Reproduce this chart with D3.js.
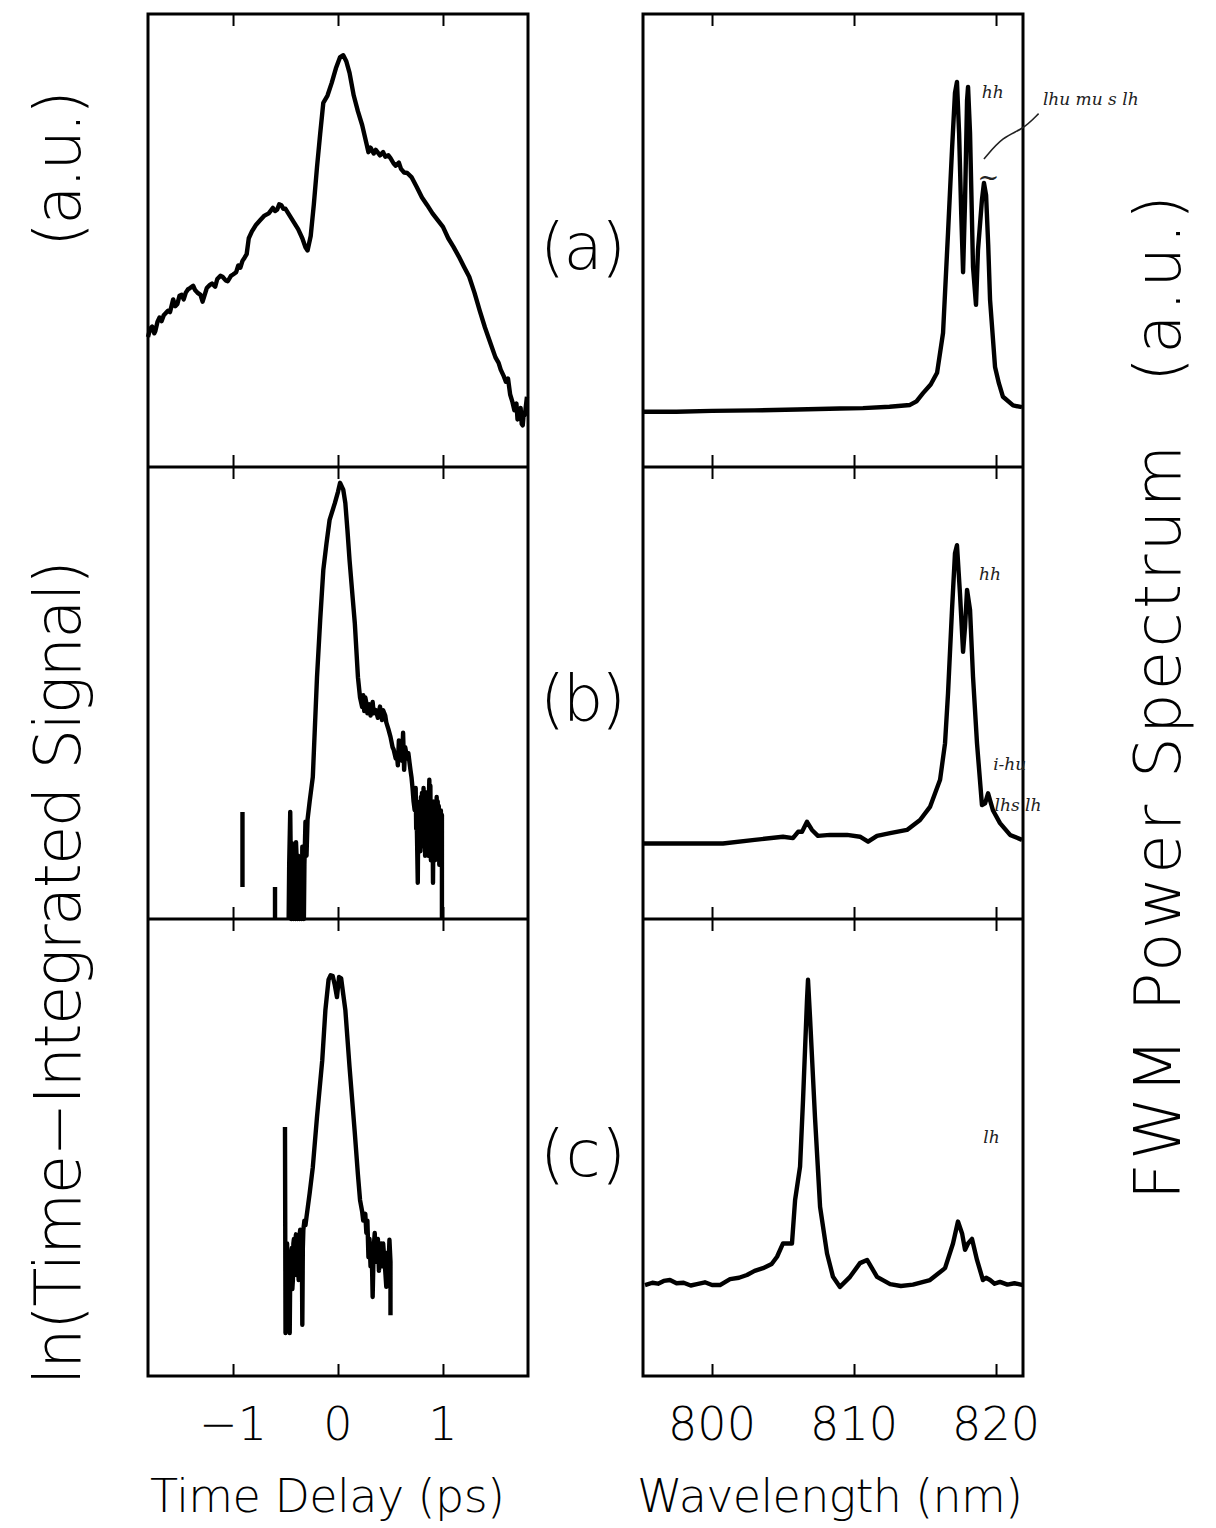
<!DOCTYPE html>
<html>
<head>
<meta charset="utf-8">
<script src="https://cdn.jsdelivr.net/npm/d3@7"></script>
<style>
  body { margin: 0; background: #fff; }
  text { font-family: "DejaVu Sans", sans-serif; font-weight: 200; fill: #000; }
  .note { font-family: "DejaVu Serif", serif; font-style: italic; font-weight: 400; fill: #222; }
</style>
</head>
<body>
<div id="chart"></div>
<script>
// ---- data ----
// left column: time delay (ps) vs ln(signal) in arbitrary units (0..10 per panel)
let timeA = [-1.81,-1.79,-1.77,-1.75,-1.74,-1.72,-1.70,-1.68,-1.66,-1.64,-1.62,-1.60,-1.57,-1.55,-1.53,-1.51,-1.49,-1.47,-1.45,-1.43,-1.41,-1.38,-1.36,-1.34,-1.31,-1.29,-1.27,-1.25,-1.22,-1.20,-1.17,-1.15,-1.12,-1.10,-1.07,-1.05,-1.02,-1.00,-0.97,-0.95,-0.93,-0.91,-0.89,-0.87,-0.85,-0.82,-0.78,-0.74,-0.70,-0.66,-0.62,-0.60,-0.58,-0.56,-0.54,-0.52,-0.50,-0.46,-0.42,-0.38,-0.34,-0.31,-0.29,-0.26,-0.23,-0.20,-0.17,-0.14,-0.10,-0.06,-0.02,0.02,0.05,0.08,0.11,0.15,0.19,0.23,0.27,0.29,0.31,0.34,0.36,0.40,0.43,0.45,0.48,0.50,0.53,0.55,0.58,0.60,0.63,0.66,0.70,0.75,0.80,0.85,0.90,0.95,1.00,1.05,1.10,1.15,1.20,1.25,1.30,1.35,1.40,1.45,1.50,1.53,1.55,1.58,1.60,1.62,1.64,1.66,1.68,1.70,1.71,1.72,1.74,1.75,1.76,1.77,1.78,1.80];
let signalA = [2.87,3.05,3.10,2.95,3.00,3.20,3.30,3.22,3.35,3.40,3.45,3.42,3.70,3.55,3.60,3.78,3.80,3.70,3.85,3.92,3.95,4.00,3.90,3.85,3.80,3.65,3.80,3.95,4.02,4.05,3.98,4.15,4.22,4.20,4.12,4.10,4.22,4.25,4.30,4.45,4.40,4.55,4.62,4.70,5.05,5.20,5.35,5.45,5.55,5.60,5.72,5.65,5.68,5.80,5.78,5.70,5.70,5.55,5.40,5.25,5.05,4.85,4.78,5.10,5.80,6.62,7.35,8.04,8.20,8.48,8.80,9.05,9.09,8.95,8.70,8.20,7.85,7.55,7.15,6.95,7.05,6.92,7.00,6.88,6.95,6.85,6.88,6.82,6.70,6.65,6.72,6.58,6.50,6.49,6.40,6.18,5.95,5.78,5.60,5.45,5.30,5.05,4.86,4.65,4.42,4.20,3.85,3.45,3.08,2.75,2.42,2.30,2.15,2.00,1.88,1.95,1.60,1.45,1.25,1.40,1.05,1.20,1.30,0.95,0.92,1.20,1.15,1.55];

// null = no signal (log undefined), 0 = clipped at panel floor
let timeB = [-0.91,-0.91,null,-0.60,-0.60,null,-0.47,-0.465,-0.455,-0.45,-0.445,-0.44,-0.43,-0.425,-0.42,-0.41,-0.405,-0.40,-0.39,-0.385,-0.38,-0.37,-0.365,-0.36,-0.35,-0.345,-0.34,-0.33,-0.325,-0.32,-0.31,-0.30,-0.29,-0.27,-0.24,-0.20,-0.17,-0.14,-0.11,-0.08,-0.03,0.00,0.02,0.05,0.07,0.09,0.11,0.14,0.16,0.19,0.21,0.23,0.24,0.25,0.26,0.27,0.28,0.30,0.31,0.33,0.34,0.36,0.38,0.40,0.42,0.43,0.45,0.46,0.48,0.50,0.52,0.53,0.55,0.56,0.57,0.58,0.59,0.60,0.61,0.62,0.63,0.64,0.66,0.67,0.69,0.70,0.71,0.72,0.73,0.74,0.745,0.75,0.76,0.765,0.77,0.775,0.78,0.785,0.79,0.795,0.80,0.805,0.81,0.815,0.82,0.825,0.83,0.835,0.84,0.845,0.85,0.855,0.86,0.865,0.87,0.875,0.88,0.885,0.89,0.895,0.90,0.905,0.91,0.915,0.92,0.925,0.93,0.935,0.94,0.945,0.95,0.955,0.96,0.965,0.97,0.975,0.98,0.985,0.99,0.99];
let signalB = [0.71,2.37,null,0,0.71,null,0,1.20,2.37,1.30,0,1.68,0.93,0,1.55,1.00,0,1.70,1.10,0,1.40,0.90,0,1.30,0.85,0,1.60,1.10,0,1.20,2.15,1.40,2.20,2.60,3.14,5.35,6.60,7.72,8.30,8.83,9.20,9.45,9.65,9.50,9.20,8.60,7.94,7.10,6.55,5.35,4.90,4.69,4.95,4.60,4.90,4.78,4.55,4.75,4.50,4.80,4.55,4.62,4.45,4.70,4.40,4.62,4.50,4.35,4.20,4.03,3.80,3.75,3.55,3.67,3.40,3.95,3.60,3.85,3.50,4.12,3.30,3.80,3.55,3.67,3.30,3.14,2.90,2.60,2.41,2.90,2.00,2.20,0.80,2.50,1.70,2.30,2.60,1.50,2.70,1.60,2.79,1.90,2.20,2.90,1.70,2.60,1.40,2.41,2.00,2.80,1.50,2.80,1.40,2.60,3.08,1.90,2.95,1.30,2.50,1.70,2.60,0.80,2.40,1.50,2.60,1.30,2.40,1.70,2.70,1.40,2.60,1.60,2.50,1.20,2.20,1.60,2.40,1.31,2.30,0];

let timeC = [-0.505,-0.50,-0.495,-0.49,-0.485,-0.48,-0.475,-0.47,-0.465,-0.46,-0.455,-0.45,-0.445,-0.44,-0.435,-0.43,-0.425,-0.42,-0.415,-0.41,-0.405,-0.40,-0.395,-0.39,-0.385,-0.38,-0.375,-0.37,-0.365,-0.36,-0.355,-0.35,-0.345,-0.34,-0.335,-0.33,-0.32,-0.31,-0.30,-0.27,-0.24,-0.20,-0.15,-0.12,-0.09,-0.07,-0.05,-0.03,-0.01,0.01,0.03,0.05,0.07,0.11,0.16,0.19,0.21,0.23,0.24,0.26,0.27,0.28,0.29,0.30,0.31,0.32,0.33,0.34,0.35,0.36,0.37,0.38,0.39,0.40,0.41,0.42,0.43,0.44,0.45,0.46,0.47,0.48,0.49,0.50,0.50];
let signalC = [5.45,0.94,2.60,1.70,2.90,1.90,2.70,1.60,2.50,0.94,2.30,2.00,2.70,2.80,1.90,2.10,2.90,3.00,2.30,2.40,3.00,3.10,2.40,2.20,2.80,3.00,2.10,2.30,3.10,3.20,2.50,2.60,3.00,1.12,2.80,3.20,3.40,3.30,3.48,4.00,4.57,5.67,6.91,8.01,8.67,8.77,8.75,8.55,8.29,8.73,8.70,8.35,8.01,6.76,5.32,4.40,3.85,3.60,3.40,3.55,3.13,3.40,2.60,3.00,2.40,2.90,1.73,2.80,3.13,2.50,2.90,3.00,2.30,2.76,2.90,2.40,2.90,2.60,2.30,1.95,2.70,2.30,2.98,2.50,1.33];

// right column: wavelength (nm) vs FWM power (a.u., 0..10 per panel)
let lambdaA = [795.14,797.5,800,803,806,809,810.63,812.5,813.94,814.4,814.86,815.4,815.85,816.27,816.62,816.90,817.11,817.25,817.40,817.55,817.68,817.82,817.96,818.03,818.17,818.38,818.59,818.73,819.01,819.15,819.30,819.45,819.58,819.93,820.2,820.49,821.20,821.83];
let powerA = [1.22,1.22,1.24,1.25,1.27,1.29,1.30,1.33,1.37,1.45,1.63,1.82,2.08,2.96,5.17,7.00,8.26,8.50,7.37,5.60,4.30,5.89,8.09,8.39,7.37,4.42,3.58,4.79,5.90,6.27,6.00,4.90,3.69,2.21,1.85,1.55,1.36,1.32];

let lambdaB = [795.14,800.77,803,805.0,805.70,806.06,806.34,806.69,807.04,807.46,808.31,809.51,810.42,810.99,811.62,812.54,813.73,814.65,815.35,816.06,816.41,816.62,816.90,817.11,817.25,817.46,817.68,817.82,817.96,818.17,818.38,818.66,819.01,819.23,819.44,819.79,820.28,820.99,821.83];
let powerB = [1.67,1.67,1.75,1.82,1.79,1.93,1.93,2.15,1.97,1.84,1.86,1.86,1.82,1.71,1.84,1.90,1.97,2.19,2.48,3.08,3.89,4.99,6.84,8.09,8.27,7.21,5.91,6.47,7.28,6.84,5.36,3.89,2.52,2.56,2.78,2.40,2.12,1.86,1.75];

let lambdaC = [795.28,795.8,796.2,796.6,797.04,797.5,798.0,798.5,798.94,799.5,800.0,800.56,801.27,801.9,802.46,803.0,803.59,804.2,804.58,805.0,805.63,805.85,806.2,806.41,806.69,806.76,806.90,807.25,807.61,808.1,808.52,809.01,809.72,810.42,810.92,811.62,812.54,813.3,814.15,815.35,816.41,816.97,817.32,817.61,817.82,818.03,818.31,818.66,819.08,819.3,819.58,819.9,820.28,820.8,821.3,821.90];
let powerC = [1.99,2.04,2.02,2.08,2.10,2.03,2.04,1.98,2.01,2.05,1.99,1.99,2.12,2.15,2.21,2.30,2.36,2.45,2.61,2.90,2.90,3.85,4.58,6.04,8.23,8.67,7.86,5.67,3.70,2.68,2.17,1.95,2.17,2.47,2.54,2.17,2.01,1.97,2.00,2.10,2.36,2.90,3.38,3.12,2.76,2.90,3.00,2.54,2.10,2.15,2.10,2.02,2.06,2.00,2.03,1.99];

let timeTicks = [-1, 0, 1];
let lambdaTicks = [800, 810, 820];
let panelNames = ["(a)", "(b)", "(c)"];

// handwritten notes on the spectra: [panel, wavelength, power, text]
let notes = [
  [0, 819.0, 8.15, "hh"],
  [0, 823.3, 8.0, "lhu  mu s  lh"],
  [1, 818.8, 7.5, "hh"],
  [1, 819.8, 3.3, "i-hu"],
  [1, 819.9, 2.4, "lhs lh"],
  [2, 819.1, 5.1, "lh"]
];

// ---- layout ----
let svgWidth = 1216, svgHeight = 1528;
let panelTop = [14, 467, 919];
let panelBottom = [467, 919, 1376];

let svg = d3.select("#chart").append("svg")
  .attr("width", svgWidth)
  .attr("height", svgHeight);

let xTime = d3.scaleLinear().domain([-1.81, 1.81]).range([148, 528]);
let xLambda = d3.scaleLinear().domain([795.14, 821.9]).range([643, 1023]);

function yPanel(i) {
  return d3.scaleLinear().domain([0, 10]).range([panelBottom[i], panelTop[i]]);
}

let leftSeries = [[timeA, signalA], [timeB, signalB], [timeC, signalC]];
let rightSeries = [[lambdaA, powerA], [lambdaB, powerB], [lambdaC, powerC]];

function drawColumn(xScale, ticks, series) {
  let g = svg.append("g");
  let x0 = xScale.range()[0], x1 = xScale.range()[1];

  series.forEach((s, i) => {
    let y = yPanel(i);
    let pts = s[0].map((t, k) => ({ x: t, v: s[1][k] }));
    let line = d3.line()
      .defined(d => d.x != null && d.v != null)
      .x(d => xScale(d.x))
      .y(d => y(Math.max(0, d.v)));
    g.append("path")
      .datum(pts)
      .attr("d", line)
      .attr("fill", "none")
      .attr("stroke", "#000")
      .attr("stroke-width", 4.4)
      .attr("stroke-linejoin", "round");

    // inward ticks, top and bottom of each panel
    g.append("g")
      .attr("transform", `translate(0, ${panelBottom[i]})`)
      .call(d3.axisTop(xScale).tickValues(ticks).tickSize(12).tickFormat(""))
      .call(a => a.select(".domain").remove())
      .selectAll("line").attr("stroke-width", 2);
    g.append("g")
      .attr("transform", `translate(0, ${panelTop[i]})`)
      .call(d3.axisBottom(xScale).tickValues(ticks).tickSize(12).tickFormat(""))
      .call(a => a.select(".domain").remove())
      .selectAll("line").attr("stroke-width", 2);
  });

  // frame and separators
  g.append("rect")
    .attr("x", x0).attr("y", panelTop[0])
    .attr("width", x1 - x0).attr("height", panelBottom[2] - panelTop[0])
    .attr("fill", "none").attr("stroke", "#000").attr("stroke-width", 3);
  [panelBottom[0], panelBottom[1]].forEach(yy => {
    g.append("line")
      .attr("x1", x0).attr("x2", x1).attr("y1", yy).attr("y2", yy)
      .attr("stroke", "#000").attr("stroke-width", 3);
  });

  // tick labels
  g.selectAll(".tl").data(ticks).enter().append("text")
    .attr("x", d => xScale(d))
    .attr("y", 1440)
    .attr("text-anchor", "middle")
    .attr("font-size", 46)
    .text(d => d < 0 ? "\u2212" + Math.abs(d) : d);
}

drawColumn(xTime, timeTicks, leftSeries);
drawColumn(xLambda, lambdaTicks, rightSeries);

// axis titles
svg.append("text").attr("x", 150).attr("y", 1512)
  .attr("font-size", 46).attr("textLength", 355).attr("lengthAdjust", "spacing")
  .text("Time Delay (ps)");
svg.append("text").attr("x", 637).attr("y", 1512)
  .attr("font-size", 46).attr("textLength", 386).attr("lengthAdjust", "spacing")
  .text("Wavelength (nm)");

function vLabel(x, yStart, len, str) {
  svg.append("text")
    .attr("transform", `translate(${x}, ${yStart}) rotate(-90)`)
    .attr("font-size", 64)
    .attr("textLength", len).attr("lengthAdjust", "spacing")
    .text(str);
}
vLabel(80, 1385, 825, "ln(Time\u2212Integrated Signal)");
vLabel(80, 247, 157, "(a.u.)");
vLabel(1180, 1200, 755, "FWM Power Spectrum");
vLabel(1180, 382, 187, "(a.u.)");

// panel letters between the columns
svg.selectAll(".pl").data(panelNames).enter().append("text")
  .attr("x", 583)
  .attr("y", (d, i) => (panelTop[i] + panelBottom[i]) / 2 + 28)
  .attr("text-anchor", "middle")
  .attr("font-size", 64)
  .attr("textLength", 86).attr("lengthAdjust", "spacing")
  .text(d => d);

// handwritten notes
svg.selectAll(".note").data(notes).enter().append("text")
  .attr("class", "note")
  .attr("x", d => xLambda(d[1]))
  .attr("y", d => yPanel(d[0])(d[2]))
  .attr("font-size", 17)
  .text(d => d[3]);

let y0 = yPanel(0);
svg.append("path")
  .attr("d", d3.line().curve(d3.curveBasis)([
    [xLambda(819.15), y0(6.8)], [xLambda(820.5), y0(7.3)], [xLambda(821.9), y0(7.45)], [xLambda(823.0), y0(7.8)]
  ]))
  .attr("fill", "none").attr("stroke", "#222").attr("stroke-width", 1.6);
svg.append("text").attr("class", "note")
  .attr("x", xLambda(818.7)).attr("y", y0(6.2))
  .attr("font-size", 26).text("~");
</script>
</body>
</html>
